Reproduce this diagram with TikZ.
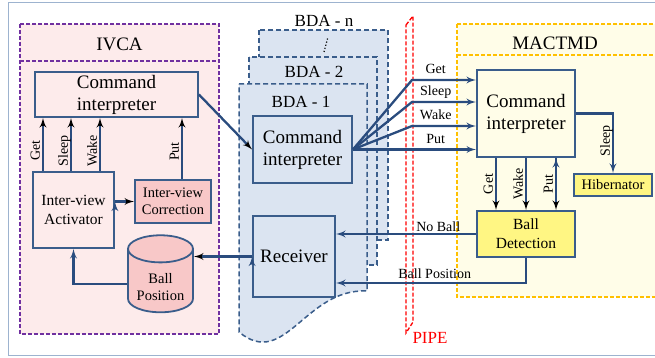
\documentclass[tikz,border=0pt]{standalone}
\usepackage{fontspec}
\setmainfont{Liberation Serif}
\usetikzlibrary{shapes, shapes.geometric, arrows, positioning}

\definecolor{linec}{HTML}{2A4C7E}
\definecolor{boxc}{HTML}{3A5D8B}
\definecolor{ivcafill}{HTML}{FDEBEB}
\definecolor{pinkfill}{HTML}{F8C8C8}
\definecolor{bdafill}{HTML}{DBE4F1}
\definecolor{macfill}{HTML}{FFFDE8}
\definecolor{yellowfill}{HTML}{FFF683}
\definecolor{purplec}{HTML}{7030A0}
\definecolor{orangec}{HTML}{FFC000}
\definecolor{framec}{HTML}{9DB3CF}

\tikzstyle{arr}  = [draw=linec, line width=2.3pt, -latex']
\tikzstyle{box}  = [draw=boxc, line width=1.8pt, align=center, inner sep=1pt]
\tikzstyle{big}  = [font=\fontsize{19}{22}\selectfont]
\tikzstyle{mid}  = [font=\fontsize{15.5}{19}\selectfont]
\tikzstyle{sml}  = [font=\fontsize{14.5}{17}\selectfont]
\tikzstyle{lbl}  = [font=\fontsize{14}{16}\selectfont, inner sep=1pt]
\tikzstyle{vlbl} = [lbl, rotate=90, anchor=south, text depth=0pt, inner sep=2pt]
\tikzstyle{area} = [line width=1.3pt, dash pattern=on 4pt off 2pt]
\tikzstyle{bda}  = [line width=1.5pt, dash pattern=on 5pt off 3pt, draw=boxc, fill=bdafill]

\begin{document}
\begin{tikzpicture}[x=1pt, y=-1pt]
\useasboundingbox (0,0) rectangle (655,358);
\draw [framec, line width=1pt] (8,3) rectangle (672,355);

%pivotal areas
\draw [area, draw=purplec, fill=ivcafill] (20,24) rectangle (219,334);
\draw [area, draw=purplec] (20,61) -- (219,61);
\draw [area, draw=orangec, fill=macfill] (457,24) rectangle (672,297);
\draw [area, draw=orangec] (457,55) -- (672,55);
\draw [bda] (259,30) rectangle (388,240);
\draw [bda] (249,57) rectangle (377,265);
\draw [bda] (239,84) -- (367,84) -- (367,291)
      .. controls (305,288) and (285,370) .. (239,332) -- cycle;
\draw [area, draw=red] (406,25) -- (413,16) -- (413,322) -- (406,333) -- cycle;
\draw [dotted, line width=1.2pt] (324,52) -- (328,37);

% titles
\node [big                    ]  (tivca) at (119.5,44)  {IVCA};
\node [big                    ]  (tmac)  at (555,43.5)  {MACTMD};
\node [font=\fontsize{17}{20}\selectfont] (tbdan) at (324,21)  {BDA - n};
\node [font=\fontsize{17}{20}\selectfont] (tbda2) at (314,72)  {BDA - 2};
\node [font=\fontsize{17}{20}\selectfont] (tbda1) at (301,101.5) {BDA - 1};
\node [font=\fontsize{17}{20}\selectfont, text=red] (tpipe) at (430,338) {PIPE};

% IVCA
\node [box, big, minimum width=163pt, minimum height=45pt, fill=ivcafill]
      (ivcmd) at (116.5,94.5) {Command\\interpreter};
\node [box, mid, minimum width=81pt, minimum height=76pt, fill=ivcafill]
      (act) at (73.5,210) {Inter-view\\Activator};
\node [box, sml, minimum width=76pt, minimum height=43pt, fill=pinkfill]
      (corr) at (173,201.5) {Inter-view\\Correction};
\node [cylinder, shape border rotate=90, aspect=0.5, draw=boxc, line width=1.8pt,
       fill=pinkfill, sml, align=center, minimum width=65pt, minimum height=77pt]
      (cyl) at (160.5,284) {\mbox{}\\Ball\\Position};

\path [arr] ([xshift=-30.5pt]act.north) edge node [vlbl, pos=.38] {Get}   ([xshift=-30.5pt]act.north |- ivcmd.south)
            ([xshift=-2.5pt]act.north)  edge node [vlbl, pos=.38] {Sleep} ([xshift=-2.5pt]act.north |- ivcmd.south)
            ([xshift=26.5pt]act.north)  edge node [vlbl, pos=.38] {Wake}  ([xshift=26.5pt]act.north |- ivcmd.south)
            ([xshift=9pt]corr.north)    edge node [vlbl, pos=.45] {Put}   ([xshift=9pt]corr.north |- ivcmd.south)
            (act.east |- corr.west)     edge (corr.west);
\draw [arr] (cyl.west) -| (act.south);

% BDA
\node [box, big, minimum width=99pt, minimum height=67pt, fill=bdafill]
      (bdacmd) at (302.5,149.5) {Command\\interpreter};
\node [box, big, minimum width=82pt, minimum height=81pt, fill=bdafill]
      (rec) at (294,256.5) {Receiver};

\path [arr] (ivcmd.east) edge (bdacmd.west)
            (rec.west)   edge (rec.west -| cyl.east);

% MACTMD
\node [box, big, minimum width=98pt, minimum height=87pt, fill=macfill]
      (mcmd) at (526,113.5) {Command\\interpreter};
\node [box, sml, minimum width=78pt, minimum height=22pt, fill=yellowfill]
      (hib) at (613,185) {Hibernator};
\node [box, mid, minimum width=98pt, minimum height=46pt, fill=yellowfill]
      (bd) at (526,234) {Ball\\Detection};

\path [arr] ([xshift=-30pt]mcmd.south) edge node [vlbl, pos=.5] {Get}  ([xshift=-30pt]mcmd.south |- bd.north)
            (mcmd.south)               edge node [vlbl, pos=.5] {Wake} (mcmd.south |- bd.north)
            ([xshift=30pt]mcmd.south)  edge node [vlbl, pos=.5] {Put}  ([xshift=30pt]mcmd.south |- bd.north);
\draw [arr] (mcmd.east) -| node [vlbl, pos=.73] {Sleep} (hib.north);

% through the pipe
\coordinate (pget)   at (412,80);
\coordinate (psleep) at (412,102);
\coordinate (pwake)  at (412,126);
\coordinate (pput)   at (412,149.5);

\draw [arr] (bdacmd.east) -- (pget)   -- node [lbl, pos=.37, anchor=base, yshift=6pt] {Get}   (pget -| mcmd.west);
\draw [arr] (bdacmd.east) -- (psleep) -- node [lbl, pos=.37, anchor=base, yshift=6pt] {Sleep} (psleep -| mcmd.west);
\draw [arr] (bdacmd.east) -- (pwake)  -- node [lbl, pos=.37, anchor=base, yshift=6pt] {Wake}  (pwake -| mcmd.west);
\draw [arr] (bdacmd.east) -- (pput)   -- node [lbl, pos=.37, anchor=base, yshift=6pt] {Put}   (pput -| mcmd.west);

\draw [arr] (bd.west) -- node [lbl, pos=.27, anchor=base, yshift=3pt] {No Ball} (bd.west -| rec.east);
\draw [arr] (bd.south) |- node [lbl, pos=.74, anchor=base, yshift=5pt] {Ball Position} ([yshift=-26.5pt]rec.east);

\end{tikzpicture}
\end{document}
